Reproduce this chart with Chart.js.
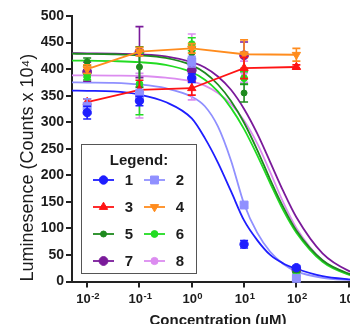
<!DOCTYPE html>
<html>
<head>
<meta charset="utf-8">
<script src="https://cdn.jsdelivr.net/npm/chart.js@4/dist/chart.umd.min.js"></script>
<style>
  html, body { margin: 0; padding: 0; background: #fff; overflow: hidden; width: 350px; height: 324px; }
  canvas { display: block; }
</style>
</head>
<body>
<canvas id="chart" width="372" height="324"></canvas>
<script>
// Measured concentrations (µM)
const concentrations = [0.01, 0.1, 1, 10, 100];

// Mean luminescence (counts x 10^4) and error (±) per compound
const mean1 = [318, 340, 383, 70, 26];   const err1 = [12, 9, 8, 7, 4];
const mean2 = [330, 352, 414, 144, 6];   const err2 = [14, 10, 10, 4, 3];
const mean3 = [338, 361, 364, 402, 404]; const err3 = [6, 18, 13, 20, 4];
const mean4 = [400, 433, 439, 428, 427]; const err4 = [8, 8, 9, 27, 12];
const mean5 = [414, 404, 430, 355, 22];  const err5 = [7, 38, 10, 17, 4];
const mean6 = [385, 372, 447, 383, 15];  const err6 = [5, 58, 12, 12, 4];
const mean7 = [395, 432, 398, 426, 22];  const err7 = [18, 48, 12, 25, 4];
const mean8 = [388, 350, 404, 395, 18];  const err8 = [10, 42, 62, 20, 4];

// Dose-response fit curves, sampled along the concentration axis
const fitConc = [0.0051, 0.01, 0.0316, 0.1, 0.316, 1, 1.78, 3.16, 5.62, 10, 17.8, 31.6, 56.2, 100, 316, 1000, 2000];
const fit1 = [359.5, 359, 358, 352, 338, 307, 270, 224, 170, 115, 78, 50, 34, 24, 10, 4, 2];
const fit2 = [375, 374.7, 374, 371, 364, 348, 330, 292, 228, 146, 92, 56, 33, 19, 7, 3, 1.5];
const fit5 = [429, 428.8, 428, 426, 421, 407, 393, 371, 340, 299, 248, 192, 140, 96, 40, 15, 8];
const fit6 = [416, 416, 415, 413, 408, 394, 380, 358, 327, 287, 238, 185, 134, 92, 37, 13, 7];
const fit7 = [430, 429.6, 429, 427.5, 424, 413, 403, 386, 361, 325, 279, 225, 170, 121, 53, 20, 11];
const fit8 = [388, 388, 387.7, 387, 384, 377, 369, 355, 334, 303, 260, 206, 149, 101, 40, 14, 7];

// Axis ticks: decades on x, written as base and exponent
const xTickValues = [0.01, 0.1, 1, 10, 100, 1000];
const xTickExponents = ['-2', '-1', '0', '1', '2', '3'];
const yTickStep = 50;

const FONT = '"Liberation Sans", Arial, Helvetica, sans-serif';
const INK = '#1c1c1c';

const series = [
  { label: '1', mean: mean1, err: err1, fit: fit1, color: '#1e1eff', style: 'circle',   radius: 4.2, rot: 0 },
  { label: '2', mean: mean2, err: err2, fit: fit2, color: '#9090ff', style: 'rect',     radius: 5.6, rot: 0 },
  { label: '3', mean: mean3, err: err3, fit: null, color: '#ff1414', style: 'triangle', radius: 4.8, rot: 0 },
  { label: '4', mean: mean4, err: err4, fit: null, color: '#ff8c1e', style: 'triangle', radius: 4.8, rot: 180 },
  { label: '5', mean: mean5, err: err5, fit: fit5, color: '#1e8a1e', style: 'circle',   radius: 3.0, rot: 0 },
  { label: '6', mean: mean6, err: err6, fit: fit6, color: '#22dc22', style: 'circle',   radius: 3.4, rot: 0 },
  { label: '7', mean: mean7, err: err7, fit: fit7, color: '#7a1a9a', style: 'circle',   radius: 4.4, rot: 0 },
  { label: '8', mean: mean8, err: err8, fit: fit8, color: '#dc8cf0', style: 'circle',   radius: 3.6, rot: 0 }
];

const pointSets = series.map(s => ({
  label: s.label,
  data: concentrations.map((c, i) => ({ x: c, y: s.mean[i] })),
  errors: s.err,
  borderColor: s.color,
  backgroundColor: s.color,
  pointStyle: s.style,
  pointRotation: s.rot,
  pointRadius: s.radius,
  pointBorderWidth: 1,
  showLine: s.fit === null,
  borderWidth: 1.8,
  tension: 0,
  clip: false
}));

const curveSets = series.filter(s => s.fit).map(s => ({
  label: s.label + ' fit',
  data: fitConc.map((c, i) => ({ x: c, y: s.fit[i] })),
  borderColor: s.color,
  borderWidth: 1.8,
  pointRadius: 0,
  showLine: true,
  cubicInterpolationMode: 'monotone',
  fill: false
}));

// Vertical error bars with caps, drawn just beneath each series' markers
const errorBars = {
  id: 'errorBars',
  beforeDatasetDraw(chart, args) {
    const ds = chart.data.datasets[args.index];
    if (!ds.errors) return;
    const { ctx } = chart;
    const xs = chart.scales.x, ys = chart.scales.y;
    ctx.save();
    ctx.strokeStyle = ds.borderColor;
    ctx.lineWidth = 1.6;
    ds.data.forEach((p, i) => {
      const e = ds.errors[i];
      if (!e) return;
      const px = xs.getPixelForValue(p.x);
      const yt = ys.getPixelForValue(p.y + e);
      const yb = ys.getPixelForValue(p.y - e);
      ctx.beginPath();
      ctx.moveTo(px, yt); ctx.lineTo(px, yb);
      ctx.moveTo(px - 4, yt); ctx.lineTo(px + 4, yt);
      ctx.moveTo(px - 4, yb); ctx.lineTo(px + 4, yb);
      ctx.stroke();
    });
    ctx.restore();
  }
};

// Decade labels on the log axis: "10" with a raised exponent
const powerLabels = {
  id: 'powerLabels',
  afterDraw(chart) {
    const { ctx } = chart;
    const xs = chart.scales.x;
    const baseY = xs.top + 21.8;
    ctx.save();
    ctx.fillStyle = INK;
    ctx.textBaseline = 'alphabetic';
    ctx.textAlign = 'left';
    xTickValues.forEach((v, i) => {
      const px = xs.getPixelForValue(v);
      ctx.font = 'bold 13px ' + FONT;
      const wb = ctx.measureText('10').width;
      ctx.font = 'bold 9.5px ' + FONT;
      const we = ctx.measureText(xTickExponents[i]).width;
      const x0 = px - (wb + we) / 2 + 0.5;
      ctx.font = 'bold 13px ' + FONT;
      ctx.fillText('10', x0, baseY);
      ctx.font = 'bold 9.5px ' + FONT;
      ctx.fillText(xTickExponents[i], x0 + wb + 0.5, baseY - 4.5);
    });
    ctx.restore();
  }
};

// Boxed two-column legend inside the plot area
const boxLegend = {
  id: 'boxLegend',
  afterDraw(chart) {
    const { ctx, chartArea } = chart;
    const x0 = chartArea.left + 9, y0 = chartArea.top + 128;
    const w = 115, h = 129;
    ctx.save();
    ctx.fillStyle = '#fff';
    ctx.fillRect(x0, y0, w, h);
    ctx.strokeStyle = '#555';
    ctx.lineWidth = 1;
    ctx.strokeRect(x0 + 0.5, y0 + 0.5, w, h);
    ctx.fillStyle = INK;
    ctx.font = 'bold 15px ' + FONT;
    ctx.textAlign = 'center';
    ctx.textBaseline = 'middle';
    ctx.fillText('Legend:', x0 + 58, y0 + 17);
    series.forEach((s, i) => {
      const col = i % 2, row = Math.floor(i / 2);
      const lx = x0 + 12 + col * 51;
      const cy = y0 + 36 + row * 27;
      ctx.strokeStyle = s.color;
      ctx.fillStyle = s.color;
      ctx.lineWidth = 1.8;
      ctx.beginPath();
      ctx.moveTo(lx, cy); ctx.lineTo(lx + 21, cy);
      ctx.stroke();
      ctx.lineWidth = 1;
      Chart.helpers.drawPoint(ctx, { pointStyle: s.style, rotation: s.rot, radius: s.radius, borderWidth: 1 }, lx + 10.5, cy);
      ctx.fillStyle = INK;
      ctx.fillText(s.label, lx + 36, cy + 1);
    });
    ctx.restore();
  }
};

new Chart(document.getElementById('chart'), {
  type: 'line',
  data: { datasets: [...pointSets, ...curveSets] },
  options: {
    responsive: false,
    animation: false,
    layout: { padding: { left: 0, top: 16, right: 8, bottom: 0 } },
    plugins: { legend: { display: false }, tooltip: { enabled: false } },
    scales: {
      x: {
        type: 'logarithmic',
        min: 0.00513,
        max: 1963,
        afterBuildTicks: s => { s.ticks = xTickValues.map(v => ({ value: v })); },
        afterFit: s => { s.height = 42.5; },
        ticks: { display: false, autoSkip: false, maxRotation: 0, minRotation: 0 },
        grid: { drawOnChartArea: false, drawTicks: true, tickLength: 6, color: '#222', lineWidth: 2 },
        border: { display: true, color: '#222', width: 2 },
        title: {
          display: true, text: 'Concentration (\u00B5M)', color: INK,
          font: { family: FONT, size: 15, weight: 'bold', lineHeight: 1 },
          padding: { top: 0, bottom: -4.5 }
        }
      },
      y: {
        min: 0,
        max: 500,
        afterFit: s => { s.width = 72; },
        ticks: {
          stepSize: yTickStep, padding: 2, color: INK,
          font: { family: FONT, size: 14, weight: 'bold' }
        },
        grid: { drawOnChartArea: false, drawTicks: true, tickLength: 6, color: '#222', lineWidth: 2 },
        border: { display: true, color: '#222', width: 2 },
        title: {
          display: true, text: 'Luminesence (Counts x 10\u2074)', color: INK, align: 'start',
          font: { family: FONT, size: 18, weight: 'normal' },
          padding: { top: 17, bottom: 0 }
        }
      }
    }
  },
  plugins: [errorBars, powerLabels, boxLegend]
});
</script>
</body>
</html>
